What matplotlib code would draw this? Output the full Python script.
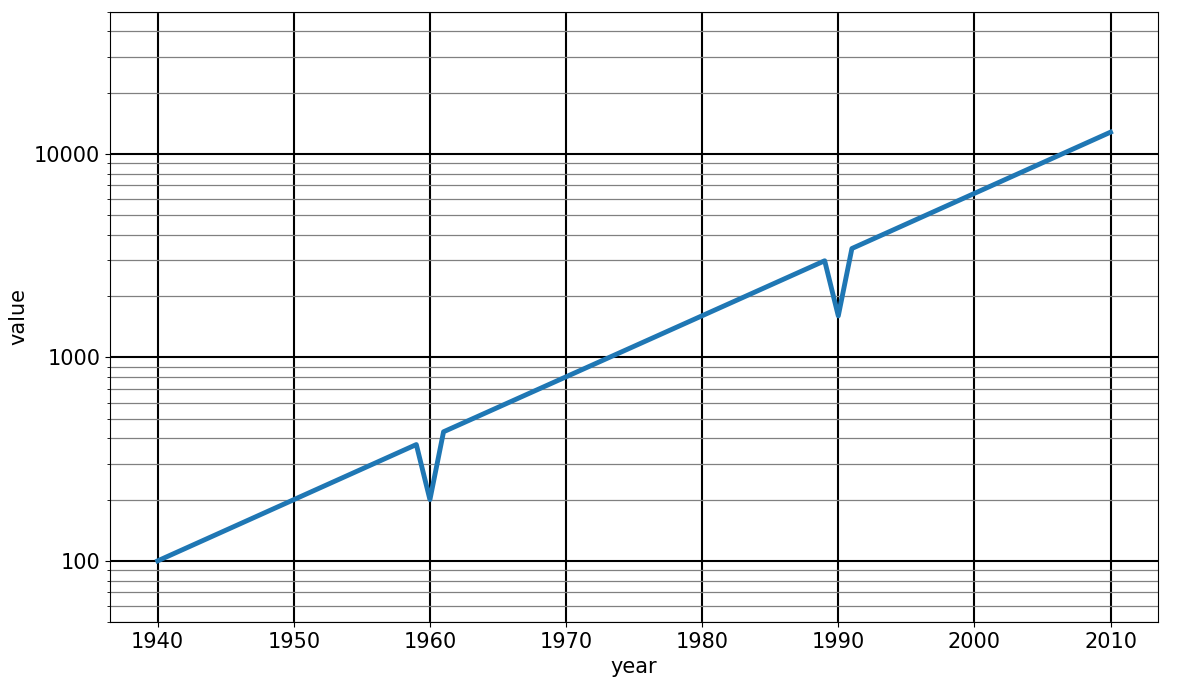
import matplotlib.pyplot as plt

# data (value doubles roughly every 10 years, with two dips)
years = [1940, 1959, 1960, 1961, 1989, 1990, 1991, 2010]
values = [100, 373, 200, 431, 2986, 1600, 3430, 12800]

fig = plt.figure(figsize=(11.77, 6.92), dpi=100)
ax = fig.add_axes([0.0935, 0.101, 0.8905, 0.882])

ax.plot(years, values, color="#1f77b4", linewidth=3.5)
ax.set_yscale("log")
ax.set_ylim(50, 50000)

ax.grid(which="major", color="black", linewidth=1.5)
ax.grid(which="minor", axis="y", color="gray", linewidth=0.9)

ax.set_yticks([100, 1000, 10000])
ax.set_yticklabels(["100", "1000", "10000"])
ax.tick_params(labelsize=15)

ax.set_xlabel("year", fontsize=15)
ax.set_ylabel("value", fontsize=15)

plt.savefig("out.png", dpi=100)
